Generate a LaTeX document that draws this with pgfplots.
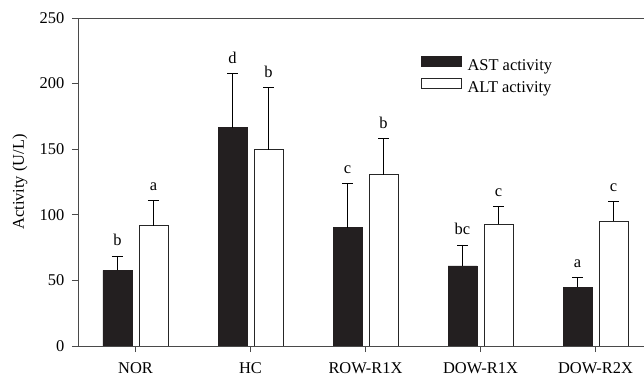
\documentclass[border=0pt]{standalone}
\usepackage{fontspec}
\setmainfont{Liberation Serif}
\usepackage{pgfplots}
\usepackage{pgfplotstable}
\pgfplotsset{compat=1.18}
\definecolor{barblack}{HTML}{231F20}
\definecolor{axgray}{HTML}{4A4A4A}

\pgfplotstableread{
x y err lab
0 57.7 10.9 b
1 166.3 41.7 d
2 90.2 33.9 c
3 61.0 16.0 bc
4 44.8 7.6 a
}\ast

\pgfplotstableread{
x y err lab
0 91.7 19.1 a
1 149.7 47.3 b
2 130.4 28.0 b
3 92.8 13.8 c
4 95.3 14.5 c
}\alt

\begin{document}
\fontsize{16.5}{19.8}\selectfont
\begin{tikzpicture}[font=\fontsize{16.5}{19.8}\selectfont]
\begin{axis}[
  at={(0,0)}, anchor=south west,
  scale only axis, width=575bp, height=328bp,
  ybar=7bp, bar width=29bp,
  xmin=-0.5, xmax=4.5, ymin=0, ymax=250,
  xtick={0,1,2,3,4},
  xticklabels={NOR,HC,ROW-R1X,DOW-R1X,DOW-R2X},
  ytick={0,50,100,150,200,250},
  tick align=outside, tick pos=left,
  major tick length=6bp,
  axis line style={axgray, line width=0.9bp},
  tick style={axgray, line width=0.9bp},
  /pgf/number format/assume math mode=true,
  tick label style={font=\fontsize{16.5}{19.8}\selectfont},
  yticklabel style={xshift=-2bp},
  xticklabel style={inner sep=0pt, yshift=-10.5bp},
  ylabel={Activity (U/L)},
  ylabel style={at={(axis description cs:-0.1009,0.5)}, anchor=center, font=\fontsize{16.5}{19.8}\selectfont},
  legend style={at={(rel axis cs:0.5965,0.884)}, anchor=north west,
    draw=none, fill=none, inner sep=0pt, row sep=2bp,
    font=\fontsize{16.5}{19.8}\selectfont,
    nodes={inner sep=1.5bp, text height=11bp, text depth=4bp},
    /tikz/column sep=4bp,
    cells={anchor=west}},
  nodes near coords, point meta=explicit symbolic,
  visualization depends on={\thisrow{err}\as\myerr},
  nodes near coords style={shift={(axis direction cs:0,\myerr)}, anchor=south, yshift=4bp, text=black, font=\fontsize{16.5}{19.8}\selectfont},
]
\addplot[fill=barblack, draw=barblack, line width=0.8bp,
  legend image code/.code={\draw[fill=barblack, draw=barblack, line width=0.8bp] (0bp,0.3bp) rectangle (40bp,10.5bp);},
  error bars/.cd, y dir=plus, y explicit,
  error bar style={black, line width=0.9bp},
  error mark options={rotate=90, mark size=5.5bp, black, line width=0.9bp}]
  table[x=x, y=y, y error=err, meta=lab] {\ast};
\addlegendentry{AST activity}
\addplot[fill=white, draw=black!85, line width=0.9bp,
  legend image code/.code={\draw[fill=white, draw=black!85, line width=0.9bp] (0bp,0.3bp) rectangle (40bp,10.5bp);},
  error bars/.cd, y dir=plus, y explicit,
  error bar style={black, line width=0.9bp},
  error mark options={rotate=90, mark size=5.5bp, black, line width=0.9bp}]
  table[x=x, y=y, y error=err, meta=lab] {\alt};
\addlegendentry{ALT activity}
\end{axis}
\pgfresetboundingbox
\path (-78bp,-31bp) rectangle (566bp,346bp);
\end{tikzpicture}
\end{document}
